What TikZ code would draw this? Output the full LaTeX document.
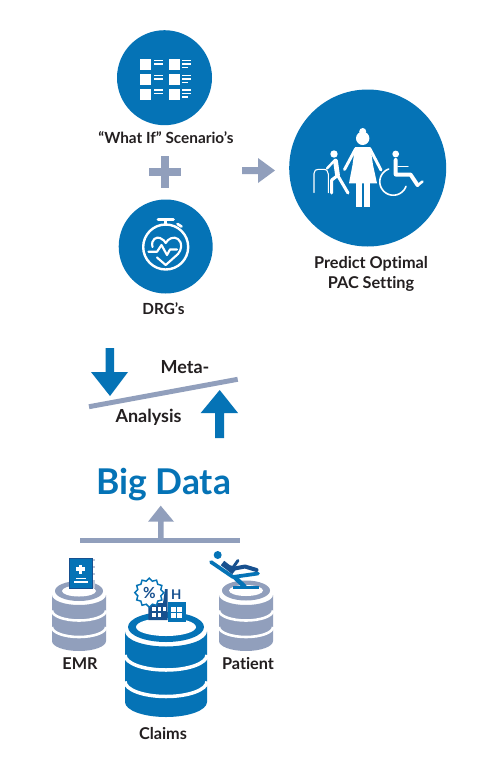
\documentclass[tikz,border=0pt]{standalone}
\usepackage{fontspec}
\setmainfont{Lato}[Ligatures=NoCommon]
\definecolor{mainblue}{HTML}{0573B6}
\definecolor{darkblue}{HTML}{17508F}
\definecolor{slate}{HTML}{919FBC}
\definecolor{inktext}{HTML}{231F20}
\tikzset{
  disc/.style={circle,fill=mainblue,inner sep=0pt,outer sep=0pt,minimum size=#1*.75pt},
  lab/.style={font=\bfseries\fontsize{11.5pt}{15pt}\selectfont,text=inktext,align=center,inner sep=0pt},
  predlab/.style={font=\bfseries\fontsize{12.2pt}{15pt}\selectfont,text=inktext,align=center,inner sep=0pt},
  stacklab/.style={font=\bfseries\fontsize{12.2pt}{15pt}\selectfont,text=inktext,inner sep=0pt},
  metalab/.style={font=\bfseries\fontsize{13.5pt}{15pt}\selectfont,text=inktext,inner sep=0pt},
  wl/.style={draw=white,line cap=round,line join=round},
}
% lower half of an ellipse, left to right
\newcommand{\lowarc}[4]{({#1-#2},#3) .. controls +(0,{.5523*#4}) and +({-.5523*#2},0) .. (#1,{#3+#4}) .. controls +({.5523*#2},0) and +(0,{.5523*#4}) .. ({#1+#2},#3)}
\newcommand{\stack}[9]{%
 \def\cx{#1}\def\cy{#2}\def\Rx{#3}\def\Ry{#4}\def\Ix{#5}\def\Iy{#6}\def\Bx{#7}\def\Bt{#8}\def\Bb{#9}\stackB}
\newcommand{\stackB}[5]{%
 \fill[#5] \lowarc{\cx}{\Bx}{\Bt}{#1} -- ({\cx+\Bx},\Bb) .. controls +(0,{.5523*#1}) and +({.5523*\Bx},0) .. (\cx,{\Bb+#1}) .. controls +({-.5523*\Bx},0) and +(0,{.5523*#1}) .. ({\cx-\Bx},\Bb) -- cycle;
 \draw[white,line width=#4*.75pt] \lowarc{\cx}{\Bx}{#2}{#1};
 \draw[white,line width=#4*.75pt] \lowarc{\cx}{\Bx}{#3}{#1};
 \fill[#5] (\cx,\cy) ellipse [x radius=\Rx,y radius=\Ry];
 \fill[white] (\cx,\cy) ellipse [x radius=\Ix,y radius=\Iy];
}
\begin{document}
\begin{tikzpicture}[x=.75pt,y=-.75pt]
\useasboundingbox (0,0) rectangle (480,768);
\fill[white] (0,0) rectangle (480,768);

% ---- discs
\node[disc=95] (whatif) at (164.5,77.7) {};
\node[disc=94] (drg) at (165.7,246.5) {};
\node[disc=157] (predict) at (367.7,168) {};

% ---- scenario icon
\foreach \ry in {59.3,74,88.7}{
  \fill[white] (140,\ry) rectangle +(11,11);
  \fill[white] (169.3,\ry) rectangle +(11,11);
  \fill[white] (154.3,{\ry+.5}) rectangle +(9,1.5);
  \fill[white] (154.3,{\ry+4}) rectangle +(9,1.5);
  \fill[white] (182,{\ry+.5}) rectangle +(9,1.5);
  \fill[white] (182,{\ry+4}) rectangle +(9,1.5);
  \fill[white] (182,{\ry+7.5}) rectangle +(5.5,1.5);
}

% ---- stopwatch icon
\draw[wl,line width=1.8pt] (165.7,247) circle [radius=22.5];
\draw[wl,line width=2pt] (158,219.8) -- (173.5,219.8);
\draw[wl,line width=2pt] (165.7,220) -- (165.7,224.5);
\draw[wl,line width=2pt] (177.5,224) -- (181.5,226.5);
\draw[wl,line width=1.6pt] (148.5,251.8) -- (157,251.8) -- (161.5,245) -- (167,255) -- (170,249.5) -- (177,249.5);
\draw[wl,line width=1.6pt] (152.5,247) .. controls (150.5,239) and (157,236.5) .. (160,238) .. controls (163,239) and (165,241.5) .. (165.7,243) .. controls (168,238.5) and (174,236) .. (178,239) .. controls (183,243) and (181.5,250) .. (178,254) -- (165.7,265) -- (157,257.5);

% ---- people icon
\fill[white] (362.7,138.3) circle [radius=6.7];
\fill[white] (362.7,131.5) circle [radius=3.5];
\fill[white] (355,147) -- (370.5,147) -- (373,165) -- (377,183.3) -- (349,183.3) -- (352.5,165) -- cycle;
\draw[wl,line width=2.2pt] (355.5,149) -- (344.5,169.5);
\draw[wl,line width=2.2pt] (370,149) -- (381,170);
\fill[white] (356,183) rectangle (361.7,206.5);
\fill[white] (364,183) rectangle (370,206.5);
% walking person
\fill[white] (334,154) circle [radius=3.7];
\draw[wl,line width=3.6pt] (335.5,161) -- (337.5,175);
\draw[wl,line width=1.8pt] (334,161) -- (327,168.5);
\draw[wl,line width=2.3pt] (337,176) -- (331.7,180) -- (331.7,193);
\draw[wl,line width=2.3pt] (338,176) -- (348,193);
\draw[wl,line width=.8pt] (314,192.7) -- (314,173.5) .. controls (314,170.5) and (316,169.3) .. (318.3,169.3) -- (323.3,169.3) .. controls (326.5,169.3) and (328.3,171) .. (328.3,174) -- (328.3,192.7);
% wheelchair
\fill[white] (395.7,154) circle [radius=3.4];
\draw[wl,line width=3pt] (395.7,160) -- (395.7,174.5) -- (410.5,174.5) -- (417.5,185);
\draw[wl,line width=1.9pt] (417.5,185.5) -- (422.5,181.5);
\draw[wl,line width=1.1pt] (398,166.7) -- (408,166.7);
\draw[wl,line width=1.2pt] plot[domain=20:250,samples=40] ({393.3+13.5*cos(\x)},{181.7+13.5*sin(\x)});

% ---- plus and right arrow
\fill[slate] (149,168.3) rectangle (181,176.3);
\fill[slate] (161,156) rectangle (169,188);
\fill[slate] (242,167) -- (258,167) -- (258,158) -- (275,170.5) -- (258,183) -- (258,174) -- (242,174) -- cycle;

% ---- labels
\node[lab] (l1) at (166,138) {“What If” Scenario’s};
\node[lab] (l2) at (163.5,309) {DRG’s};
\node[predlab] (l3) at (371,274) {Predict Optimal\\PAC Setting};

% ---- meta analysis
\fill[mainblue] (105.7,348) -- (114,348) -- (114,372) -- (128,372) -- (110,396) -- (91,372) -- (105.7,372) -- cycle;
\fill[mainblue] (215,438) -- (224,438) -- (224,413) -- (238,413) -- (219.7,390) -- (200.7,413) -- (215,413) -- cycle;
\draw[slate,line width=3.7pt] (89,406.7) -- (237.7,379.3);
\node[metalab] (meta) at (185,367) {Meta-};
\node[metalab] (ana) at (148.5,417) {Analysis};

% ---- big data
\node[font=\bfseries\fontsize{26.6pt}{30pt}\selectfont,text=mainblue,inner sep=0pt] (big) at (163.5,485) {Big Data};
\fill[slate] (80,538) rectangle (240,542.7);
\fill[slate] (158,540) -- (163.5,540) -- (163.5,521.7) -- (174,521.7) -- (160.7,505.7) -- (148,521.7) -- (158,521.7) -- cycle;

% ---- data stacks
\stack{79}{591}{24}{10}{17}{5.5}{27}{595}{641}{10}{610.5}{627}{2.6}{slate}
\stack{246}{590.5}{24}{10}{17}{5.5}{27}{595}{641}{10}{610.5}{627}{2.6}{slate}
\stack{166}{627}{38}{15}{30}{9}{41}{631.5}{702}{15}{655}{681.5}{3.5}{mainblue}

% ---- book icon
\fill[slate!60] (91,558.5) rectangle (95,588);
\fill[white] (92.5,561) rectangle (94.5,566);
\fill[white] (92.5,568) rectangle (94.5,573);
\fill[white] (92.5,575) rectangle (94.5,580);
\fill[mainblue,draw=darkblue,line width=.6pt] (69.3,558.7) rectangle (92,588.7);
\fill[white] (79,564.5) rectangle (82.4,573.5);
\fill[white] (76.2,567.3) rectangle (85.2,570.7);
\fill[white] (75.5,577.5) rectangle (86,579);
\fill[white] (73.5,580.5) rectangle (88,583);

% ---- building icons
\fill[darkblue] (148.3,620) -- (148.3,603) -- (163,603) -- (165,589) -- (167.7,589) -- (167.7,620) -- cycle;
\foreach \wx/\wy in {152/607,157.5/607,152/613,157.5/613,162.5/607}{\fill[white] (\wx,\wy) rectangle +(3.6,3.8);}
\fill[mainblue] (167.7,601.7) rectangle (185.7,621.7);
\foreach \wx/\wy in {170.5/607,177/607,170.5/613,177/613}{\fill[white] (\wx,\wy) rectangle +(5,4.5);}
\node[font=\bfseries\fontsize{10pt}{10pt}\selectfont,text=darkblue,inner sep=0pt] (hosp) at (176.2,595) {H};
% badge
\draw[mainblue,fill=white,line width=1.1pt] plot[smooth cycle,tension=.35,domain=0:345,samples=24] ({149.3+(13.2+1.3*cos(12*\x))*cos(\x)},{592.7+(13.2+1.3*cos(12*\x))*sin(\x)});
\node[font=\bfseries\fontsize{11.5pt}{10pt}\selectfont,text=darkblue,inner sep=0pt] (pct) at (149.3,593) {\%};

% ---- patient chair icon
\fill[mainblue] (217.7,555) circle [radius=4];
\draw[mainblue,line width=2.8pt,line cap=round,line join=round] (211,562) -- (233,577) -- (258,573.5);
\draw[mainblue,line width=3.4pt] (235,577.5) -- (245,587);
\draw[mainblue,line width=2.4pt] (233.3,587.7) -- (258.5,587.7);
\draw[darkblue,line width=4.2pt,line join=round] (222.5,563) -- (234,572);
\draw[darkblue,line width=2.2pt,line join=round,line cap=round] (226,566) -- (233,567.5) -- (238,560.5);
\draw[darkblue,line width=3pt,line join=round,line cap=round] (232,569) -- (245,566.5) -- (256.5,570);

% ---- stack labels
\node[stacklab] (emr) at (80,664) {EMR};
\node[stacklab] (pat) at (248,664) {Patient};
\node[stacklab] (cl) at (163,734) {Claims};
\end{tikzpicture}
\end{document}
